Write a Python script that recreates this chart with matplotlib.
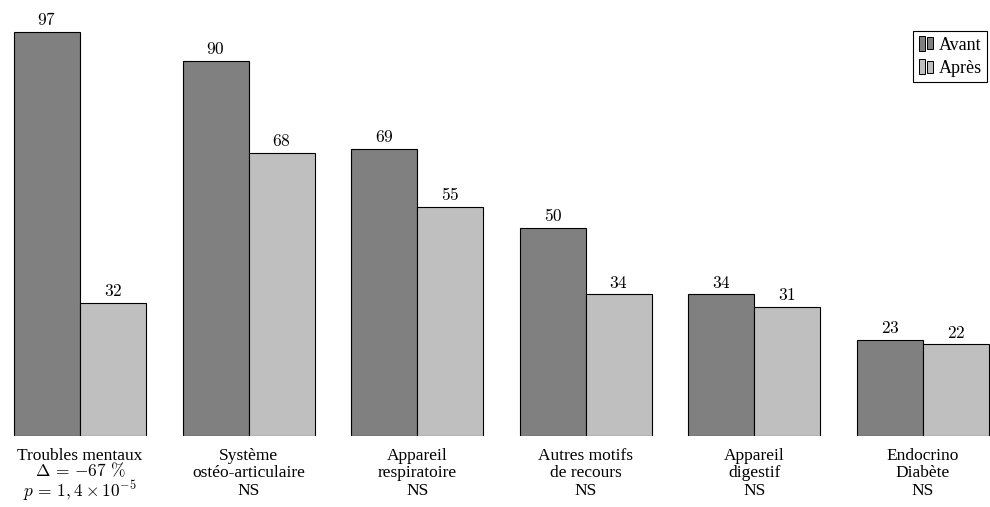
import numpy as np
import matplotlib.pyplot as plt
from matplotlib.patches import Rectangle
from matplotlib.legend_handler import HandlerBase

plt.rcParams['mathtext.fontset'] = 'cm'
plt.rcParams['font.family'] = 'Liberation Serif'

categories = ['Troubles mentaux', 'Système\nostéo-articulaire', 'Appareil\nrespiratoire',
              'Autres motifs\nde recours', 'Appareil\ndigestif', 'Endocrino\nDiabète']
stats = [r'$\Delta\,=\,{-67}\ \%$' + '\n' + r'$p\,=\,1,4\times 10^{-5}$', 'NS', 'NS', 'NS', 'NS', 'NS']
avant = [97, 90, 69, 50, 34, 23]
apres = [32, 68, 55, 34, 31, 22]

dark = '#808080'
light = '#bfbfbf'


class TwoBars(HandlerBase):
    # pgfplots style legend image: two small bars
    def create_artists(self, legend, orig_handle, xdescent, ydescent, width, height, fontsize, trans):
        fc = orig_handle.get_facecolor()
        w = width * 0.38
        r1 = Rectangle((-xdescent, -ydescent), w, height, facecolor=fc, edgecolor='black', lw=0.7, transform=trans)
        r2 = Rectangle((-xdescent + w * 1.4, -ydescent + height * 0.1), w, height * 0.8, facecolor=fc, edgecolor='black', lw=0.7, transform=trans)
        return [r1, r2]


fig = plt.figure(figsize=(9.9, 5.07), dpi=100)
ax = fig.add_axes([0, 71 / 507, 1, 436 / 507])

x = np.arange(len(categories))
w = 0.3915
b1 = ax.bar(x - w / 2, avant, w, color=dark, edgecolor='black', linewidth=0.8, label='Avant')
b2 = ax.bar(x + w / 2, apres, w, color=light, edgecolor='black', linewidth=0.8, label='Après')

for bars, vals in [(b1, avant), (b2, apres)]:
    for r, v in zip(bars, vals):
        ax.annotate('$%d$' % v, (r.get_x() + r.get_width() / 2, v), xytext=(0, 2),
                    textcoords='offset points', ha='center', va='bottom', fontsize=12.5)

for i in range(len(categories)):
    label = categories[i] + '\n' + stats[i]
    ls = 0.88 if i == 0 else 1.12
    ax.annotate(label, (x[i], 0), xytext=(0, -8.5),
                textcoords='offset points', ha='center', va='top', fontsize=12.5,
                linespacing=ls)

ax.set_xlim(-80 / 168.6, 5 + 67 / 168.6)
ax.set_ylim(0, 436 / 4.165)
ax.axis('off')

h1, h2 = b1.patches[0], b2.patches[0]
ax.legend(handles=[h1, h2], labels=['Avant', 'Après'], handler_map={h1: TwoBars(), h2: TwoBars()},
          loc='upper right', bbox_to_anchor=(0.997, 0.93), fontsize=13, fancybox=False,
          edgecolor='black', framealpha=1, handlelength=0.9, handleheight=0.9, handletextpad=0.2,
          borderpad=0.3, labelspacing=0.3, borderaxespad=0)
ax.get_legend().get_frame().set_linewidth(0.8)

fig.savefig('out.png', dpi=100)
